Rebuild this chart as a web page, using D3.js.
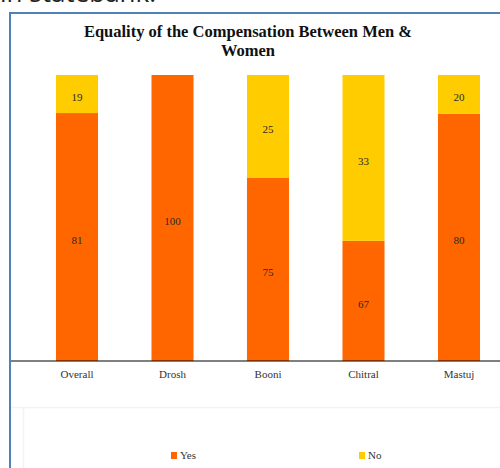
<!DOCTYPE html>
<html>
<head>
<meta charset="utf-8">
<script src="https://cdn.jsdelivr.net/npm/d3@7"></script>
<style>
  html, body { margin: 0; padding: 0; background: #fff; }
  svg { display: block; }
</style>
</head>
<body>
<svg id="chart" width="500" height="468"></svg>
<script>
// ---- data ----
const categories = ["Overall", "Drosh", "Booni", "Chitral", "Mastuj"];
// printed data labels
const yesLabels = [81, 100, 75, 67, 80];
const noLabels  = [19, 0, 25, 33, 20];
// share of each bar as drawn in the picture (percent of full bar height)
const yesDrawn = [86.7, 100, 64.0, 42.0, 86.4];
const noDrawn  = [13.3, 0, 36.0, 58.0, 13.6];
const seriesNames = ["Yes", "No"];
const seriesColors = ["#ff6600", "#ffcc00"];
const titleLines = ["Equality of the Compensation Between Men &", "Women"];

const svg = d3.select("#chart");
const serif = "'Liberation Serif', 'DejaVu Serif', serif";

// cut-off text from the page above
svg.append("text").attr("x", 0).attr("y", 2)
  .attr("font-family", "'Open Sans', sans-serif").attr("font-size", 26)
  .attr("fill", "#222").text("in statebank.");

// frame
svg.append("line").attr("x1", 10).attr("x2", 10).attr("y1", 12).attr("y2", 468)
  .attr("stroke", "#4f81bd").attr("stroke-width", 2);
svg.append("line").attr("x1", 9).attr("x2", 500).attr("y1", 13).attr("y2", 13)
  .attr("stroke", "#4f81bd").attr("stroke-width", 2);

// title
const title = svg.append("text").attr("text-anchor", "middle")
  .attr("font-family", serif).attr("font-weight", "bold").attr("font-size", 16.5)
  .attr("fill", "#111");
titleLines.forEach((t, i) => {
  title.append("tspan").attr("x", 248).attr("y", 37 + i * 19).text(t);
});

// scales
const x = d3.scaleBand().domain(categories).range([29.25, 506.75])
  .paddingInner(0.56).paddingOuter(0.28);
const y = d3.scaleLinear().domain([0, 100]).range([361, 75]);

const rows = categories.map((c, i) => ({
  cat: c, Yes: yesDrawn[i], No: noDrawn[i], yesLabel: yesLabels[i], noLabel: noLabels[i]
}));
const stacked = d3.stack().keys(seriesNames)(rows);

const g = svg.append("g");
stacked.forEach((layer, li) => {
  g.selectAll(null).data(layer).join("rect")
    .attr("x", d => x(d.data.cat))
    .attr("width", x.bandwidth())
    .attr("y", d => y(d[1]))
    .attr("height", d => y(d[0]) - y(d[1]))
    .attr("fill", seriesColors[li]);
  g.selectAll(null).data(layer.filter(d => d[1] - d[0] > 0)).join("text")
    .attr("x", d => x(d.data.cat) + x.bandwidth() / 2)
    .attr("y", d => (y(d[0]) + y(d[1])) / 2 + 3)
    .attr("dy", "0.35em")
    .attr("text-anchor", "middle")
    .attr("font-family", serif).attr("font-size", 11).attr("fill", "#2a2a2a")
    .text(d => li === 0 ? d.data.yesLabel : d.data.noLabel);
});

// x axis
const xAxis = svg.append("g").attr("transform", "translate(0,361)")
  .call(d3.axisBottom(x).tickSize(0).tickPadding(9));
xAxis.select(".domain").attr("d", "M11,0H500").attr("stroke", "#000").attr("stroke-width", 1.2);
xAxis.selectAll("text").attr("font-family", serif).attr("font-size", 11).attr("fill", "#333");

// legend box (faint)
svg.append("line").attr("x1", 11).attr("x2", 500).attr("y1", 407.5).attr("y2", 407.5)
  .attr("stroke", "#f6f3ee").attr("stroke-width", 1.5);
svg.append("line").attr("x1", 23.5).attr("x2", 23.5).attr("y1", 408).attr("y2", 468)
  .attr("stroke", "#f6f3ee").attr("stroke-width", 1.5);

// legend
const legendX = [171, 359];
seriesNames.forEach((s, i) => {
  svg.append("rect").attr("x", legendX[i]).attr("y", 452).attr("width", 6).attr("height", 7)
    .attr("fill", seriesColors[i]);
  svg.append("text").attr("x", legendX[i] + 9).attr("y", 459)
    .attr("font-family", serif).attr("font-size", 11).attr("fill", "#333").text(s);
});
</script>
</body>
</html>
